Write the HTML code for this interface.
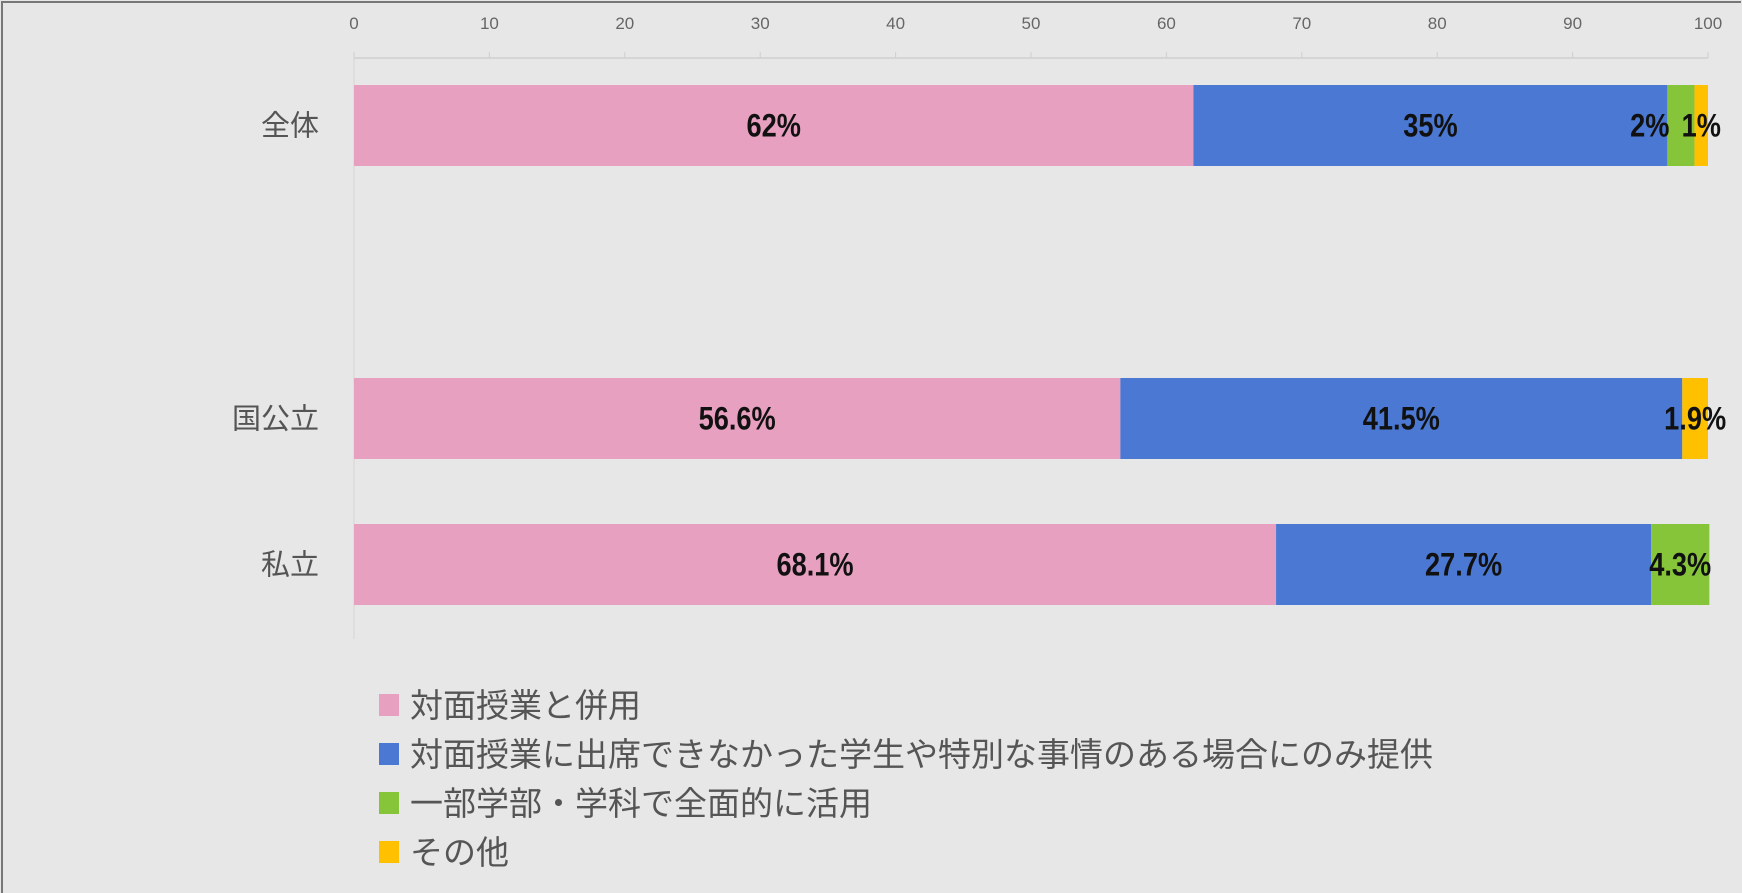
<!DOCTYPE html>
<html><head><meta charset="utf-8"><style>
html,body{margin:0;padding:0;background:#e7e7e7;}
body{width:1742px;height:893px;overflow:hidden;position:relative;font-family:"Liberation Sans","Noto Sans CJK JP",sans-serif;}
#frame{position:absolute;left:1px;top:1px;width:1738px;height:890px;border:2px solid #777;border-right:none;border-bottom:none;}
</style></head><body>
<div id="frame"></div>
<svg id="chart" width="1742" height="893" style="position:absolute;left:0;top:0"></svg>
<script>
const categories=["全体","国公立","私立"];
const seriesNames=["対面授業と併用","対面授業に出席できなかった学生や特別な事情のある場合にのみ提供","一部学部・学科で全面的に活用","その他"];
const s1=[62,56.6,68.1];
const s2=[35,41.5,27.7];
const s3=[2,0,4.3];
const s4=[1,1.9,0];
const labels1=["62%","56.6%","68.1%"];
const labels2=["35%","41.5%","27.7%"];
const labels3=["2%","","4.3%"];
const labels4=["1%","1.9%",""];
const ticks=[0,10,20,30,40,50,60,70,80,90,100];

const colors=["#e8a0c0","#4a78d2","#86c43a","#ffc000"];
const svg=document.getElementById('chart');
const NS="http://www.w3.org/2000/svg";
const X0=354,X1=1708;
const xs=v=>X0+(X1-X0)*v/100;
const rowY=[85,378,524],barH=81;
function mk(t,a){const e=document.createElementNS(NS,t);for(const k in a)e.setAttribute(k,a[k]);svg.appendChild(e);return e;}
let ax=mk('line',{x1:X0,y1:58,x2:X1,y2:58,stroke:'#cfcfcf','stroke-width':1.5});


let ay=mk('line',{x1:X0,y1:58,x2:X0,y2:639,stroke:'#d4d4d4','stroke-width':1});


ticks.forEach(t=>{
 const tl=mk('line',{x1:xs(t),y1:52,x2:xs(t),y2:58,stroke:'#cfcfcf'});
 
 
 const tx=mk('text',{x:xs(t),y:29,'text-anchor':'middle','font-size':17,fill:'#666'});
 tx.textContent=t;
 
 
});
const series=[s1,s2,s3,s4],labs=[labels1,labels2,labels3,labels4];
categories.forEach((c,i)=>{
 const cl=mk('text',{x:319,y:rowY[i]+barH/2+10,'text-anchor':'end','font-size':29,fill:'#555'});
 cl.textContent=c;
 
 
 let acc=0;
 series.forEach((s,j)=>{
  const v=s[i];
  if(v>0){
   const r=mk('rect',{x:xs(acc),y:rowY[i],width:xs(acc+v)-xs(acc),height:barH,fill:colors[j]});
   
   
  }
  const L=labs[j][i];
  if(L){
   const narrowNext=v<3 && j<3 && series[j+1][i]>0 && series[j+1][i]<3;
   const cx=narrowNext?xs(acc)+2:(xs(acc)+xs(acc+v))/2;
   const cy=rowY[i]+barH/2+11;
   const t=mk('text',{x:0,y:0,'text-anchor':narrowNext?'end':'middle','font-size':32,'font-weight':'bold',fill:'#111',transform:`translate(${cx},${cy}) scale(0.85,1)`});
   t.textContent=L;
   
   
  }
  acc+=v;
 });
});
seriesNames.forEach((n,j)=>{
 const y=705+j*49;
 const r=mk('rect',{x:379,y:y-11,width:20,height:22,fill:colors[j]});
 
 
 const t=mk('text',{x:410,y:y+12,'font-size':33,fill:'#555'});
 t.textContent=n;
 
 
});
</script>
</body></html>
